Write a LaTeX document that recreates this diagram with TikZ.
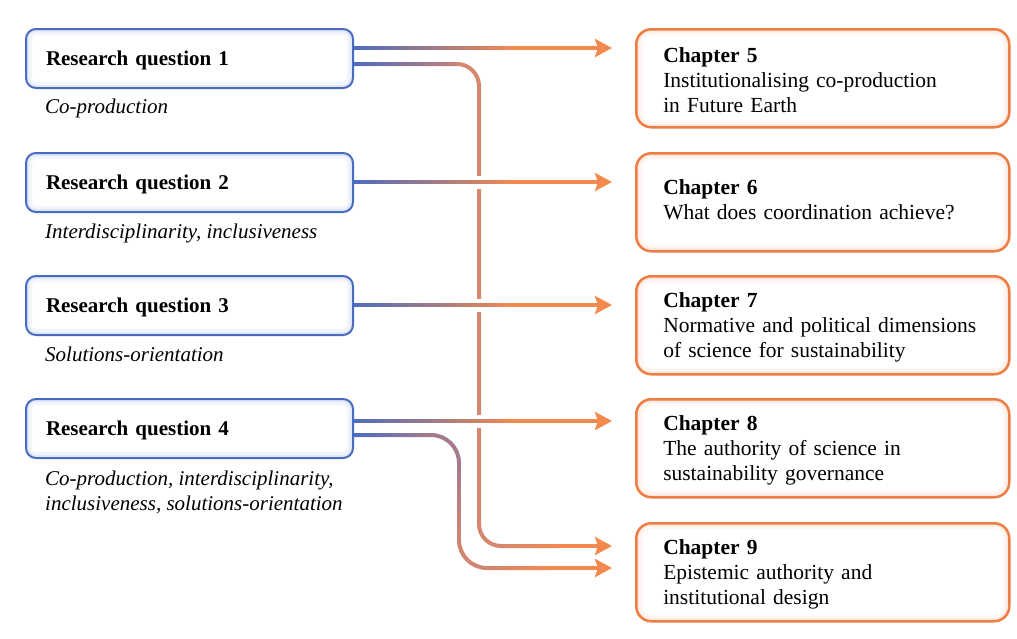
\documentclass[tikz,border=0pt]{standalone}
\usepackage{fontspec}
\setmainfont{Liberation Serif}
\usetikzlibrary{arrows.meta,calc}

\definecolor{qblue}{HTML}{4A6CC0}
\definecolor{corg}{HTML}{EE7D43}
\definecolor{carr}{HTML}{F4894E}
\definecolor{rqmix}{HTML}{C57F7C}
\definecolor{rqsal}{HTML}{D6876F}
\definecolor{mauve}{HTML}{A57A8E}
\definecolor{msal}{HTML}{D08570}

\pgfdeclarelayer{paper}
\pgfdeclarelayer{links}
\pgfsetlayers{paper,links,main}

% struts that set the first-line height and last-line depth of chapter boxes
\newcommand\chtop{\rule{0pt}{20pt}}
\newcommand\chbot{\rule[-2pt]{0pt}{2pt}}

% colour ramp along a straight stretch: \ramp{from}{to}{start colour}{end colour}
\newcommand\ramp[4]{%
  \foreach \k in {0,...,39}{%
    \pgfmathsetmacro\pa{\k/40}%
    \pgfmathsetmacro\pb{min((\k+1.4)/40,1)}%
    \pgfmathtruncatemacro\mixval{100-100*(\k+0.5)/40}%
    \draw[line width=4pt, #3!\mixval!#4] ($(#1)!\pa!(#2)$) -- ($(#1)!\pb!(#2)$);
  }}

\begin{document}
\begin{tikzpicture}[x=1pt,y=-1pt,
  qbox/.style={draw=qblue, line width=2pt, fill=white, rounded corners=10pt,
    anchor=north west, minimum width=327pt, minimum height=59pt,
    inner xsep=20pt, inner ysep=0pt, text width=287pt, align=left,
    text height=14pt, text depth=0pt,
    font=\fontsize{21}{25}\selectfont\bfseries,
    path picture={
      \draw[qblue!7, line width=12pt, rounded corners=10pt]
        (path picture bounding box.north west) rectangle (path picture bounding box.south east);
      \draw[qblue!16, line width=6pt, rounded corners=10pt]
        (path picture bounding box.north west) rectangle (path picture bounding box.south east);}},
  chbox/.style={draw=corg, line width=2.5pt, fill=white, rounded corners=15pt,
    anchor=north west, minimum width=373pt, minimum height=98pt,
    inner xsep=27pt, inner ysep=0pt, text width=319pt, align=left,
    font=\fontsize{21.5}{25}\selectfont,
    path picture={
      \draw[corg!7, line width=12pt, rounded corners=15pt]
        (path picture bounding box.north west) rectangle (path picture bounding box.south east);
      \draw[corg!16, line width=6pt, rounded corners=15pt]
        (path picture bounding box.north west) rectangle (path picture bounding box.south east);}},
  lab/.style={anchor=base west, inner sep=0pt, font=\fontsize{21}{25}\selectfont\itshape},
  link/.style={line width=4pt},
  tip/.style={-{Stealth[length=17pt,width=18pt,inset=3pt]}}
]
\useasboundingbox (0,0) rectangle (1017,638);
\begin{pgfonlayer}{paper}
  \fill[white] (0,0) rectangle (1017,638);
\end{pgfonlayer}

% research question boxes
\node[qbox] (rq1) at (25,28)  {Research question 1};
\node[qbox] (rq2) at (25,152) {Research question 2};
\node[qbox] (rq3) at (25,275) {Research question 3};
\node[qbox] (rq4) at (25,398) {Research question 4};

% themes under each question
\node[lab] (t1)  at (45,113) {Co-production};
\node[lab] (t2)  at (45,238) {Interdisciplinarity, inclusiveness};
\node[lab] (t3)  at (45,361) {Solutions-orientation};
\node[lab] (t4a) at (45,485) {Co-production, interdisciplinarity,};
\node[lab] (t4b) at (45,510) {inclusiveness, solutions-orientation};

% chapter boxes
\node[chbox] (ch5) at (635,28)  {\chtop\textbf{Chapter 5}\\Institutionalising co-production\\in Future Earth\chbot};
\node[chbox] (ch6) at (635,152) {\textbf{Chapter 6}\\What does coordination achieve?\rule[-5pt]{0pt}{5pt}};
\node[chbox] (ch7) at (635,275) {\chtop\textbf{Chapter 7}\\Normative and political dimensions\\of science for sustainability\chbot};
\node[chbox] (ch8) at (635,398) {\chtop\textbf{Chapter 8}\\The authority of science in\\sustainability governance\chbot};
\node[chbox] (ch9) at (635,522) {\chtop\textbf{Chapter 9}\\Epistemic authority and\\institutional design\chbot};

\begin{pgfonlayer}{links}
  % connector end points (kept on whole points so the strokes sit cleanly)
  \coordinate (a1)  at ($(rq1.north east)+(0,20)$);
  \coordinate (a1b) at ($(rq1.north east)+(0,36)$);
  \coordinate (a2)  at ($(rq2.east)+(0,-0.5)$);
  \coordinate (a3)  at ($(rq3.east)+(0,-0.5)$);
  \coordinate (a4)  at ($(rq4.north east)+(0,23)$);
  \coordinate (a4b) at ($(rq4.north east)+(0,37)$);
  \coordinate (b5)  at ($(ch5.west |- a1)+(-23,0)$);
  \coordinate (b6)  at ($(ch6.west |- a2)+(-23,0)$);
  \coordinate (b7)  at ($(ch7.west |- a3)+(-23,0)$);
  \coordinate (b8)  at ($(ch8.west |- a4)+(-23,0)$);
  \coordinate (b9a) at ($(ch9.north west)+(-23,24)$);
  \coordinate (b9b) at ($(ch9.north west)+(-23,46)$);
  \coordinate (c1)  at ($(a1b)+(125,0)$);
  \coordinate (c4)  at ($(a4b)+(105,0)$);

  % question 1 to chapter 9 (long vertical run)
  \draw[link, rqsal, rounded corners=22pt] (a1b) -- (c1) -- (c1 |- b9a) -- ($(c1 |- b9a)+(80,0)$);
  \ramp{a1b}{$(c1)+(-22,0)$}{qblue}{rqmix}
  \ramp{$(c1 |- b9a)+(22,0)$}{$(c1 |- b9a)+(80,0)$}{rqsal}{carr}
  \draw[link, carr, tip] ($(c1 |- b9a)+(79,0)$) -- (b9a);

  % question 4 to chapter 9
  \draw[link, mauve, rounded corners=28pt] (a4b) -- (c4) -- ($(c4)+(0,29)$);
  \draw[link, msal, rounded corners=28pt] ($(c4 |- b9b)+(0,-29)$) -- (c4 |- b9b) -- ($(c4 |- b9b)+(90,0)$);
  \ramp{$(c4)+(0,28)$}{$(c4 |- b9b)+(0,-28)$}{mauve}{msal}
  \ramp{a4b}{$(c4)+(-28,0)$}{qblue}{mauve}
  \ramp{$(c4 |- b9b)+(28,0)$}{$(c4 |- b9b)+(90,0)$}{msal}{carr}
  \draw[link, carr, tip] ($(c4 |- b9b)+(89,0)$) -- (b9b);

  % white breaks where the straight connectors cross the vertical run
  \foreach \a in {a2,a3,a4}{
    \fill[white] ($(c1 |- \a)+(-7,-6.5)$) rectangle ($(c1 |- \a)+(7,6.5)$);
  }

  % straight connectors
  \draw[link, carr, tip] (a1) -- (b5);
  \ramp{a1}{$(a1)+(160,0)$}{qblue}{carr}
  \draw[link, carr, tip] (a2) -- (b6);
  \ramp{a2}{$(a2)+(160,0)$}{qblue}{carr}
  \draw[link, carr, tip] (a3) -- (b7);
  \ramp{a3}{$(a3)+(160,0)$}{qblue}{carr}
  \draw[link, carr, tip] (a4) -- (b8);
  \ramp{a4}{$(a4)+(160,0)$}{qblue}{carr}
\end{pgfonlayer}
\end{tikzpicture}
\end{document}
